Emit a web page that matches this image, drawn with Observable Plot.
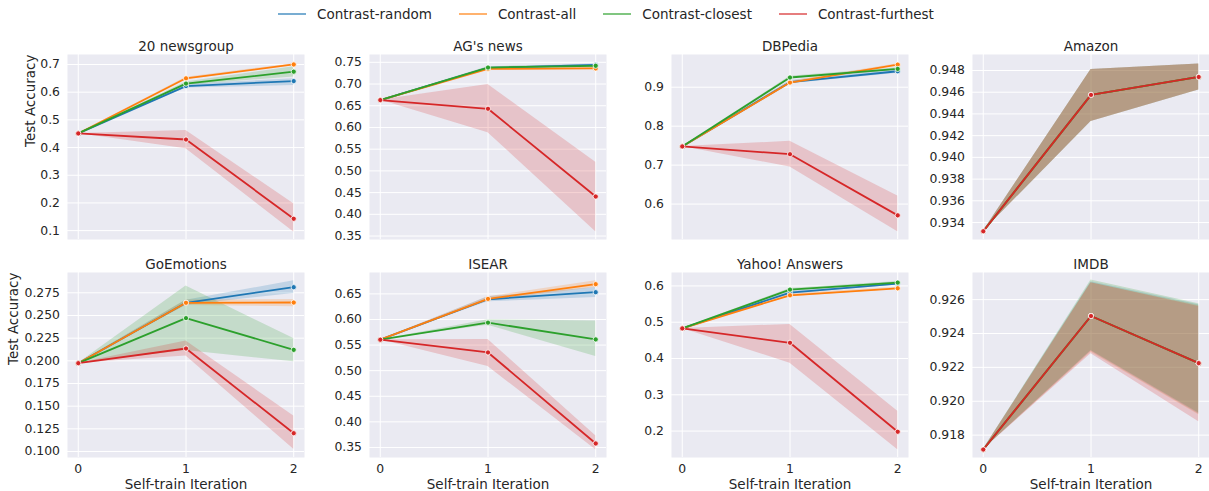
<!DOCTYPE html>
<html><head><meta charset="utf-8">
<script src="https://cdn.jsdelivr.net/npm/d3@7"></script>
<script src="https://cdn.jsdelivr.net/npm/@observablehq/plot@0.6"></script>
<style>
body{margin:0;background:#fff;font-family:"DejaVu Sans",sans-serif;}
#root{position:relative;width:1209px;height:491px;overflow:hidden;background:#fff;}
#legend{position:absolute;left:278px;top:0;height:27px;display:flex;align-items:center;font-size:13.5px;color:#262626;white-space:nowrap;}
.item{display:flex;align-items:center;margin-right:27px;}
.item svg{margin-right:11px;display:block;}
#root > svg{position:absolute;background:transparent;overflow:visible;}
</style></head><body><div id="root"><div id="legend"></div></div>
<script>
// ---------- data ----------
const iterations = [0, 1, 2];
const series = ["Contrast-random", "Contrast-all", "Contrast-closest", "Contrast-furthest"];
const palette = ["#1f77b4", "#ff7f0e", "#2ca02c", "#d62728"];
const titles = ["20 newsgroup", "AG's news", "DBPedia", "Amazon", "GoEmotions", "ISEAR", "Yahoo! Answers", "IMDB"];

// rows: random, all, closest, furthest ; columns: iteration 0, 1, 2
const newsMean = [[0.451, 0.622, 0.640], [0.451, 0.650, 0.700], [0.451, 0.631, 0.674], [0.451, 0.429, 0.143]];
const newsLow  = [[0.451, 0.615, 0.624], [0.451, 0.646, 0.697], [0.451, 0.625, 0.655], [0.451, 0.396, 0.095]];
const newsHigh = [[0.451, 0.629, 0.648], [0.451, 0.654, 0.703], [0.451, 0.637, 0.692], [0.451, 0.462, 0.197]];

const agMean = [[0.663, 0.737, 0.744], [0.663, 0.735, 0.736], [0.663, 0.738, 0.742], [0.663, 0.643, 0.441]];
const agLow  = [[0.663, 0.735, 0.742], [0.663, 0.733, 0.734], [0.663, 0.736, 0.740], [0.663, 0.588, 0.360]];
const agHigh = [[0.663, 0.739, 0.746], [0.663, 0.737, 0.738], [0.663, 0.740, 0.744], [0.663, 0.699, 0.520]];

const dbMean = [[0.748, 0.913, 0.941], [0.748, 0.912, 0.958], [0.748, 0.925, 0.947], [0.748, 0.728, 0.571]];
const dbLow  = [[0.748, 0.909, 0.936], [0.748, 0.909, 0.956], [0.748, 0.922, 0.944], [0.748, 0.695, 0.529]];
const dbHigh = [[0.748, 0.917, 0.946], [0.748, 0.915, 0.960], [0.748, 0.928, 0.950], [0.748, 0.761, 0.621]];

const amzMean = [[0.9332, 0.94575, 0.9474], [0.9332, 0.94575, 0.9474], [0.9332, 0.94575, 0.9474], [0.9332, 0.94575, 0.9474]];
const amzLow  = [[0.9332, 0.9433, 0.9462], [0.9332, 0.9433, 0.9462], [0.9332, 0.9433, 0.9462], [0.9332, 0.9433, 0.9462]];
const amzHigh = [[0.9332, 0.9481, 0.9486], [0.9332, 0.9481, 0.9486], [0.9332, 0.9481, 0.9486], [0.9332, 0.9481, 0.9486]];

const goMean = [[0.1974, 0.2640, 0.2812], [0.1974, 0.2640, 0.2643], [0.1974, 0.2471, 0.2121], [0.1974, 0.2136, 0.1202]];
const goLow  = [[0.1974, 0.2614, 0.2743], [0.1974, 0.2610, 0.2596], [0.1974, 0.2115, 0.1989], [0.1974, 0.2052, 0.1026]];
const goHigh = [[0.1974, 0.2669, 0.2882], [0.1974, 0.2670, 0.2676], [0.1974, 0.2824, 0.2246], [0.1974, 0.2218, 0.1393]];

const isMean = [[0.5605, 0.6395, 0.6533], [0.5605, 0.6402, 0.6690], [0.5605, 0.5938, 0.5611], [0.5605, 0.5356, 0.3578]];
const isLow  = [[0.5605, 0.6345, 0.6428], [0.5605, 0.6362, 0.6624], [0.5605, 0.5886, 0.5278], [0.5605, 0.5082, 0.3454]];
const isHigh = [[0.5605, 0.6445, 0.6624], [0.5605, 0.6442, 0.6755], [0.5605, 0.5997, 0.5970], [0.5605, 0.5611, 0.3729]];

const yaMean = [[0.483, 0.5816, 0.6065], [0.483, 0.5742, 0.5935], [0.483, 0.5899, 0.6092], [0.483, 0.4433, 0.1982]];
const yaLow  = [[0.483, 0.5776, 0.6025], [0.483, 0.5702, 0.5905], [0.483, 0.5869, 0.6062], [0.483, 0.3871, 0.1484]];
const yaHigh = [[0.483, 0.5856, 0.6105], [0.483, 0.5782, 0.5965], [0.483, 0.5929, 0.6122], [0.483, 0.4940, 0.2544]];

const imMean = [[0.91715, 0.92503, 0.92225], [0.91715, 0.92503, 0.92225], [0.91715, 0.92503, 0.92225], [0.91715, 0.92503, 0.92225]];
const imLow  = [[0.91715, 0.92295, 0.91925], [0.91715, 0.92290, 0.91920], [0.91715, 0.92300, 0.91930], [0.91715, 0.92280, 0.91879]];
const imHigh = [[0.91715, 0.92705, 0.92570], [0.91715, 0.92700, 0.92565], [0.91715, 0.92715, 0.92575], [0.91715, 0.92700, 0.92560]];

// tick values and formats per panel
const yTicks = [
  [0.1, 0.2, 0.3, 0.4, 0.5, 0.6, 0.7],
  [0.35, 0.40, 0.45, 0.50, 0.55, 0.60, 0.65, 0.70, 0.75],
  [0.6, 0.7, 0.8, 0.9],
  [0.934, 0.936, 0.938, 0.940, 0.942, 0.944, 0.946, 0.948],
  [0.100, 0.125, 0.150, 0.175, 0.200, 0.225, 0.250, 0.275],
  [0.35, 0.40, 0.45, 0.50, 0.55, 0.60, 0.65],
  [0.2, 0.3, 0.4, 0.5, 0.6],
  [0.918, 0.920, 0.922, 0.924, 0.926]
];
const yFormats = [".1f", ".2f", ".1f", ".3f", ".3f", ".2f", ".1f", ".3f"];
const yDomains = [
  [0.068, 0.736], [0.342, 0.768], [0.509, 0.984], [0.93244, 0.94947],
  [0.0934, 0.2974], [0.3304, 0.6918], [0.1272, 0.637], [0.91668, 0.9276]
];
const xTicks = [0, 1, 2];
const xLabel = "Self-train Iteration";
const yLabel = "Test Accuracy";

const panelData = [
  [newsMean, newsLow, newsHigh], [agMean, agLow, agHigh], [dbMean, dbLow, dbHigh], [amzMean, amzLow, amzHigh],
  [goMean, goLow, goHigh], [isMean, isLow, isHigh], [yaMean, yaLow, yaHigh], [imMean, imLow, imHigh]
];

// ---------- layout ----------
const colLeft = [67, 369, 671, 972];
const rowTop = [54, 272];
const plotW = 237, plotH = 185;
const ML = 67, MR = 0;
const ink = "#262626";

const root = document.getElementById("root");

// legend
const legend = document.getElementById("legend");
series.forEach((s, i) => {
  const item = document.createElement("div");
  item.className = "item";
  item.innerHTML = `<svg width="28" height="4"><line x1="0" x2="28" y1="2" y2="2" stroke="${palette[i]}" stroke-width="1.5" stroke-opacity="0.8"/></svg><span>${s}</span>`;
  legend.appendChild(item);
});

panelData.forEach(([mean, low, high], p) => {
  const row = Math.floor(p / 4), col = p % 4;
  const MT = row === 0 ? 25 : 22;
  const MB = row === 0 ? 8 : 36;
  const tables = series.map((s, k) => iterations.map((it, i) => ({x: it, y: mean[k][i], lo: low[k][i], hi: high[k][i]})));
  const marks = [
    Plot.frame({fill: "#EAEAF2", stroke: "none"}),
    Plot.gridX({ticks: xTicks, stroke: "white", strokeOpacity: 1, strokeWidth: 1}),
    Plot.gridY({ticks: yTicks[p], stroke: "white", strokeOpacity: 1, strokeWidth: 1}),
    Plot.axisY({ticks: yTicks[p], tickSize: 0, tickPadding: 7.5, tickFormat: d3.format(yFormats[p]), label: null, fill: ink}),
    ...tables.map((t, k) => Plot.areaY(t, {x: "x", y1: "lo", y2: "hi", fill: palette[k], fillOpacity: 0.2})),
    ...tables.flatMap((t, k) => [
      Plot.line(t, {x: "x", y: "y", stroke: palette[k], strokeWidth: 1.8}),
      Plot.dot(t, {x: "x", y: "y", fill: palette[k], stroke: "white", strokeWidth: 0.8, r: 2.6})
    ]),
    Plot.text([titles[p]], {text: d => d, frameAnchor: "top", dy: -3.8, lineAnchor: "bottom", fontSize: 13.5, fill: ink})
  ];
  if (row === 1) {
    marks.push(Plot.axisX({ticks: xTicks, tickSize: 0, tickPadding: 7, tickFormat: d => String(d), label: null, fill: ink}));
    marks.push(Plot.text([xLabel], {text: d => d, frameAnchor: "bottom", dy: 31, lineAnchor: "bottom", fontSize: 13.5, fill: ink}));
  }
  if (col === 0) {
    marks.push(Plot.text([yLabel], {text: d => d, frameAnchor: "left", rotate: -90, dx: row === 0 ? -32.5 : -49.5, lineAnchor: "bottom", fontSize: 13.5, fill: ink}));
  }
  const svg = Plot.plot({
    width: ML + plotW + MR,
    height: MT + plotH + MB,
    marginLeft: ML, marginRight: MR, marginTop: MT, marginBottom: MB,
    style: {background: "transparent", fontFamily: "DejaVu Sans", fontSize: "12.4px", color: ink, overflow: "visible"},
    x: {domain: [-0.1, 2.1], axis: row === 0 ? null : undefined},
    y: {domain: yDomains[p]},
    marks
  });
  svg.style.left = (colLeft[col] - ML) + "px";
  svg.style.top = (rowTop[row] - MT) + "px";
  root.appendChild(svg);
});
</script></body></html>
